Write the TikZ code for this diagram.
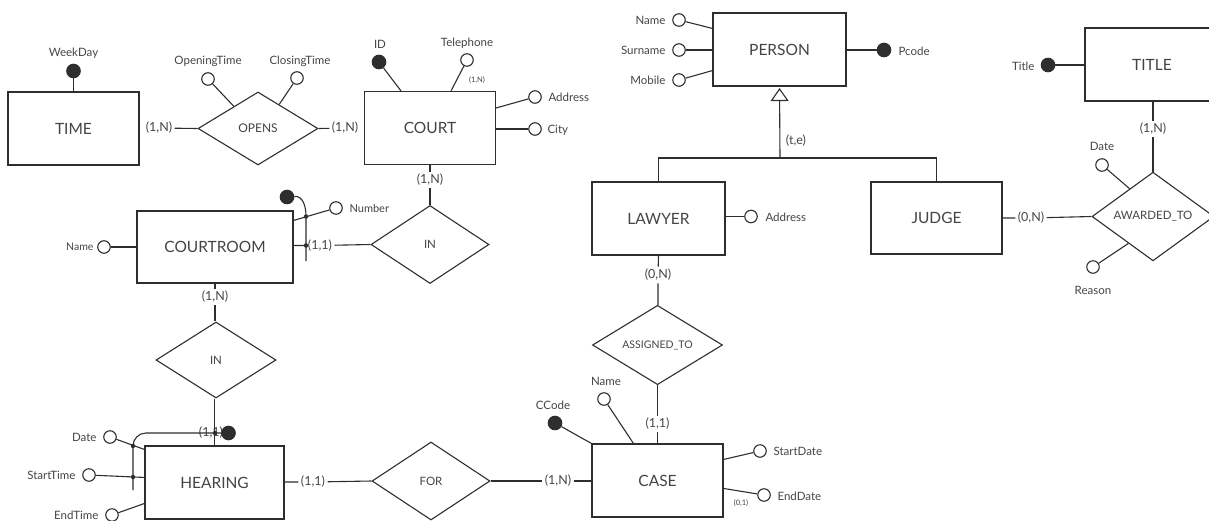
\documentclass[tikz,border=0pt]{standalone}
\usepackage{fontspec}
\setmainfont{Lato}
\usetikzlibrary{shapes.geometric,calc,arrows.meta}
\definecolor{ink}{HTML}{2E2E2E}
\definecolor{txt}{HTML}{444444}
\begin{document}
\begin{tikzpicture}[x=1pt,y=-1pt,line width=1.1pt,draw=ink,
  entity/.style={draw,rectangle,inner sep=0pt,text=txt,font=\fontsize{15.5}{18}\selectfont},
  rel/.style={draw,diamond,inner sep=0pt,text=txt},
  attr/.style={draw,circle,minimum size=12.5pt,inner sep=0pt,fill=white},
  keyattr/.style={draw,circle,fill=ink,minimum size=13.5pt,inner sep=0pt},
  lbl/.style={text=txt,inner sep=1pt,font=\fontsize{11.5}{13}\selectfont},
  card/.style={text=txt,inner sep=2pt,font=\fontsize{12.5}{14}\selectfont},
  tiny/.style={text=txt,inner sep=1pt,font=\fontsize{7.5}{9}\selectfont},
  iddot/.style={fill=ink,circle,inner sep=0pt,minimum size=4.5pt}]
\useasboundingbox (0,0) rectangle (1209,520);
\clip (0,0) rectangle (1209,520);

% ---------- entities ----------
\node[entity,minimum width=131pt,minimum height=73pt] (time) at (73.5,128.5) {TIME};
\node[entity,minimum width=131pt,minimum height=73pt] (court) at (430,128) {COURT};
\node[entity,minimum width=156pt,minimum height=72pt] (courtroom) at (215,247) {COURTROOM};
\node[entity,minimum width=139pt,minimum height=73pt] (hearing) at (214.5,482.5) {HEARING};
\node[entity,minimum width=131pt,minimum height=73pt] (case) at (657.5,480.5) {CASE};
\node[entity,minimum width=133pt,minimum height=73pt] (person) at (779.5,49.5) {PERSON};
\node[entity,minimum width=133pt,minimum height=73pt] (lawyer) at (658.5,218.5) {LAWYER};
\node[entity,minimum width=131pt,minimum height=72pt] (judge) at (936.5,218) {JUDGE};
\node[entity,minimum width=134pt,minimum height=73pt] (title) at (1152,64.5) {TITLE};

% ---------- relationships ----------
\node[rel,minimum width=120pt,minimum height=73pt,font=\fontsize{12}{14}\selectfont] (opens) at (258,128.5) {OPENS};
\node[rel,minimum width=118pt,minimum height=78pt,font=\fontsize{11.5}{14}\selectfont] (in1) at (430,244.5) {IN};
\node[rel,minimum width=120pt,minimum height=76pt,font=\fontsize{11.5}{14}\selectfont] (in2) at (216,360) {IN};
\node[rel,minimum width=118pt,minimum height=78pt,font=\fontsize{11.5}{14}\selectfont] (for) at (431,481) {FOR};
\node[rel,minimum width=130pt,minimum height=76pt,font=\fontsize{10.5}{13}\selectfont] (assigned) at (657.5,345) {ASSIGNED\_TO};
\node[rel,minimum width=122pt,minimum height=69pt,font=\fontsize{11.5}{14}\selectfont] (awarded) at (1153,216.5) {AWARDED\_TO};

% ---------- cardinalities and links ----------
\node[card] (c1) at (159,128) {(1,N)};
\draw (c1) -- (opens.west);
\node[card] (c2) at (345,128) {(1,N)};
\draw (opens.east) -- (c2);

\node[card] (c3) at (430,180) {(1,N)};
\draw (court.south) -- (c3) -- (in1.north);

\node[card] (c4) at (320,245.5) {(1,1)};
\draw (courtroom.east |- c4) -- (c4) -- (in1.west);

\node[card] (c5) at (215,297) {(1,N)};
\draw (courtroom.south) -- (c5) -- (in2.north -| c5);

\node[card] (c6) at (211,433) {(1,1)};
\draw (in2.south -| hearing.north) -- (hearing.north);

\node[card] (c7) at (313,482) {(1,1)};
\draw (hearing.east |- c7) -- (c7) -- (for.west);

\node[card] (c8) at (558,481) {(1,N)};
\draw (for.east) -- (c8) -- (case.west |- c8);

\node[card] (c9) at (658,275) {(0,N)};
\draw (lawyer.south) -- (c9) -- (assigned.north -| c9);

\node[card] (c10) at (657.5,424) {(1,1)};
\draw (assigned.south) -- (c10) -- (case.north);

\node[card] (c11) at (1031,218) {(0,N)};
\draw (judge.east) -- (c11) -- (awarded.west);

\node[card] (c12) at (1153,129) {(1,N)};
\draw (title.south -| c12) -- (c12) -- (awarded.north);

% ---------- generalization ----------
\coordinate (isa) at (780,158);
\draw[-{Triangle[open,length=13pt,width=18pt,line width=1.1pt]},shorten >=1.5pt] (isa) -- (person.south);
\draw (lawyer.north) |- (isa) -| (judge.north);
\node[card] at (796,141) {(t,e)};

% ---------- TIME attributes ----------
\node[keyattr] (wd) at (73.5,71) {};
\node[lbl] at (73.5,53) {WeekDay};
\draw (time.north) -- (wd);

% ---------- OPENS attributes ----------
\node[attr] (ot) at (208,79) {};
\node[lbl] at (208,61) {OpeningTime};
\draw (ot) -- ($(opens.north)!0.4!(opens.west)$);
\node[attr] (ct) at (297,78) {};
\node[lbl] at (300,61) {ClosingTime};
\draw (ct) -- ($(opens.north)!0.35!(opens.east)$);

% ---------- COURT attributes ----------
\node[keyattr] (cid) at (379,62) {};
\node[lbl] at (380,44) {ID};
\draw (cid) -- ($(court.north)+(-29,0)$);
\node[attr] (tel) at (467,60) {};
\node[lbl] at (467,43) {Telephone};
\node[tiny] at (477,80) {(1,N)};
\draw (tel) -- ($(court.north)+(21,0)$);
\node[attr] (cad) at (535,97) {};
\node[lbl,anchor=west] at (547,97) {Address};
\draw ($(court.east)+(0,-20)$) -- (cad);
\node[attr] (city) at (535,129) {};
\node[lbl,anchor=west] at (546,130) {City};
\draw (court.east |- city) -- (city);

% ---------- COURTROOM attributes and identifier ----------
\node[attr] (crn) at (104,247) {};
\node[lbl,anchor=east,font=\fontsize{10.5}{12}\selectfont] at (95,247) {Name};
\draw (crn) -- (courtroom.west);
\node[attr] (num) at (336,208) {};
\node[lbl,anchor=west,font=\fontsize{11}{12}\selectfont] at (348,208) {Number};
\draw ($(courtroom.north east)+(0,10)$) -- (num);
\node[keyattr] (crk) at (287,197) {};
\coordinate (crid) at (306,216);
\coordinate (crend) at (306,261);
\draw (crk) to[out=5,in=90] (crid) -- (crend);
\node[iddot] at (306,216.5) {};
\node[iddot] at (306,245.5) {};

% ---------- HEARING attributes and identifier ----------
\node[attr] (hd) at (110,437) {};
\node[lbl,anchor=east] at (98,437) {Date};
\draw (hd) -- ($(hearing.north west)+(0,4)$);
\node[attr] (hst) at (89,475) {};
\node[lbl,anchor=east] at (77,475) {StartTime};
\draw (hst) -- ($(hearing.north west)+(0,32)$);
\node[attr] (het) at (112,515) {};
\node[lbl,anchor=east] at (100,515) {EndTime};
\draw (het) -- ($(hearing.north west)+(0,58)$);
\node[keyattr] (hk) at (228.5,433) {};
\coordinate (hbend) at (133,446);
\coordinate (hend) at (133,490);
\draw (hk) -- (146,433) to[out=180,in=90] (hbend) -- (hend);
\node[iddot] at (133,446) {};
\node[iddot] at (133,477) {};
\node[iddot] at (215,433) {};

% ---------- CASE attributes ----------
\node[keyattr] (cc) at (555,423) {};
\node[lbl] at (553,405) {CCode};
\draw (cc) -- (case.north west);
\node[attr] (cn) at (604,399) {};
\node[lbl] at (606,381) {Name};
\draw (cn) -- ($(case.north west)+(42,0)$);
\node[attr] (sd) at (760,451) {};
\node[lbl,anchor=west] at (772,451) {StartDate};
\draw ($(case.north east)+(0,16)$) -- (sd);
\node[attr] (ed) at (764,495) {};
\node[lbl,anchor=west] at (776,496) {EndDate};
\node[tiny] at (741,503) {(0,1)};
\draw ($(case.north east)+(0,45)$) -- (ed);

% ---------- PERSON attributes ----------
\node[attr] (pn) at (679,20) {};
\node[lbl,anchor=east] at (667,20) {Name};
\draw (pn) -- ($(person.north west)+(0,16)$);
\node[attr] (ps) at (679,50) {};
\node[lbl,anchor=east] at (667,50) {Surname};
\draw (ps) -- (person.west |- ps);
\node[attr] (pm) at (679,80) {};
\node[lbl,anchor=east] at (667,80) {Mobile};
\draw (pm) -- ($(person.south west)+(0,-16)$);
\node[keyattr] (pc) at (884,50) {};
\node[lbl,anchor=west] at (897,51) {Pcode};
\draw (person.east |- pc) -- (pc);

% ---------- LAWYER attributes ----------
\node[attr] (la) at (751,216.5) {};
\node[lbl,anchor=west] at (764,217) {Address};
\draw (lawyer.east |- la) -- (la);

% ---------- TITLE and AWARDED_TO attributes ----------
\node[keyattr] (tt) at (1048,65) {};
\node[lbl,anchor=east] at (1036,66) {Title};
\draw (tt) -- (title.west |- tt);
\node[attr] (ad) at (1102,165) {};
\node[lbl] at (1102,146) {Date};
\draw (ad) -- ($(awarded.north)!0.38!(awarded.west)$);
\node[attr] (ar) at (1093,267) {};
\node[lbl] at (1093,290) {Reason};
\draw (ar) -- ($(awarded.south)!0.4!(awarded.west)$);
\end{tikzpicture}
\end{document}
